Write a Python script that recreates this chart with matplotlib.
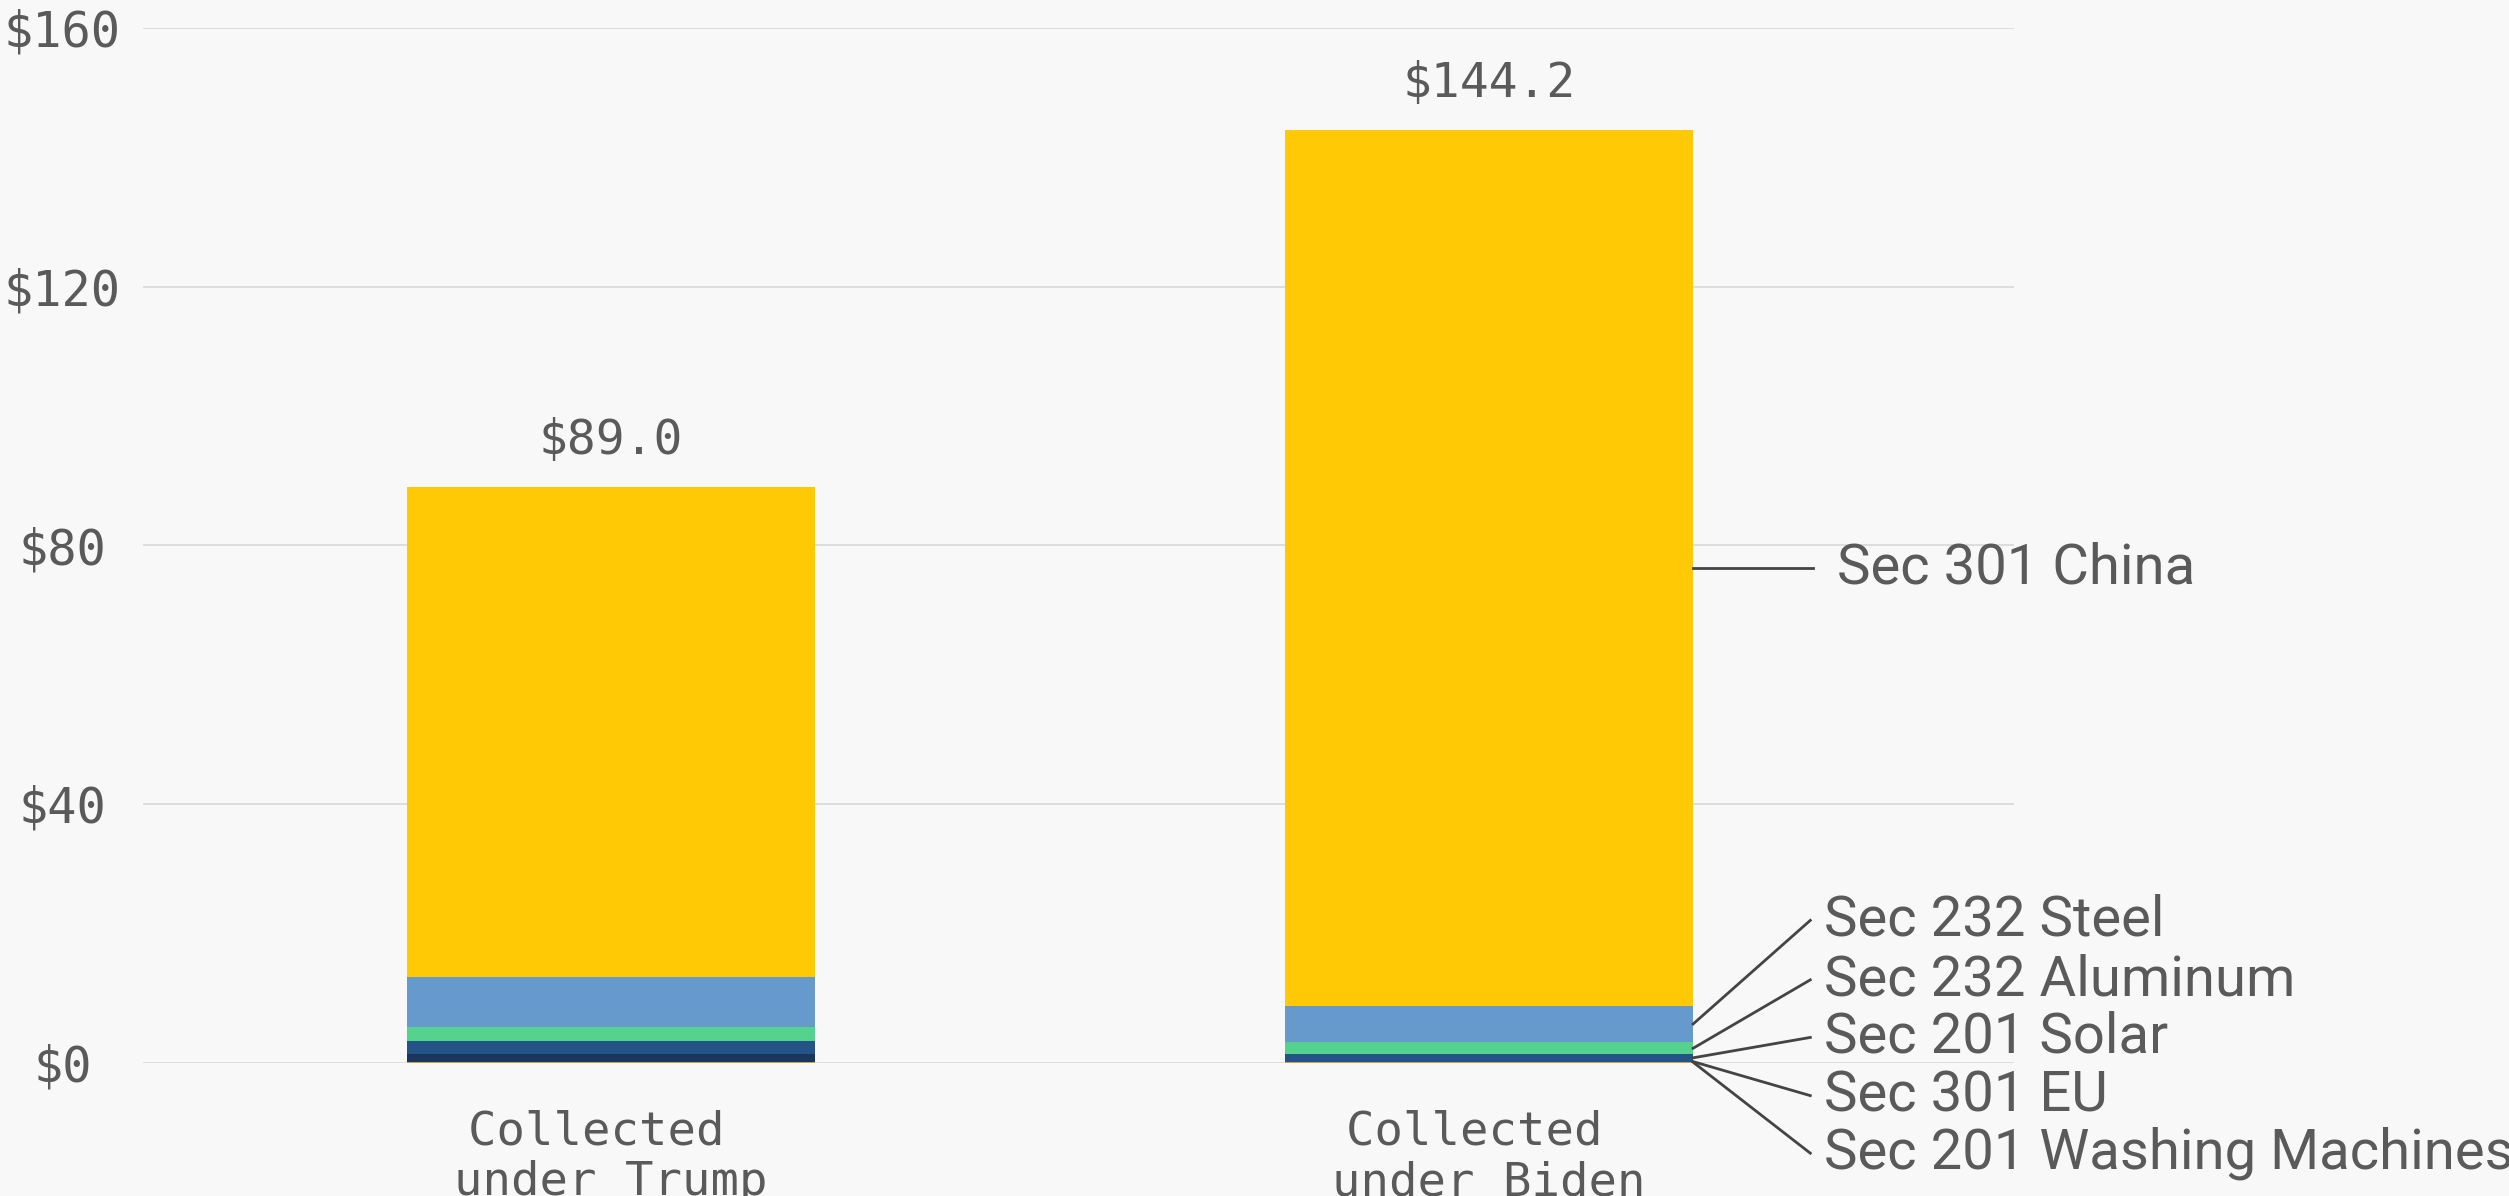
import matplotlib
matplotlib.use("Agg")
from matplotlib import pyplot as plt
import numpy as np

# tariff revenue collected, billions of dollars
periods = ["Collected \nunder Trump", "Collected \nunder Biden"]
series = ["Sec 201 Washing Machines", "Sec 301 EU", "Sec 201 Solar",
          "Sec 232 Aluminum", "Sec 232 Steel", "Sec 301 China"]
washing = [0.15, 0.15]
eu = [1.15, 0.02]
solar = [2.0, 1.15]
aluminum = [2.27, 1.8]
steel = [7.6, 5.7]
china = [75.83, 135.38]
yticks = [0, 40, 80, 120, 160]

colors = ["#c9a53a", "#1b365d", "#245487", "#55d38e", "#6699cc", "#ffc905"]
bg = "#f8f8f8"
txt = "#5a5a5a"
mono = "DejaVu Sans Mono"

values = np.array([washing, eu, solar, aluminum, steel, china])
totals = values.sum(axis=0)

fig = plt.figure(figsize=(25.09, 11.96), dpi=100, facecolor=bg)
ax = fig.add_axes([0.057, 0.1115, 0.7457, 0.8651], facecolor=bg)

x = np.arange(len(periods))
w = 0.465
bottom = np.zeros(len(periods))
for vals, c in zip(values, colors):
    ax.bar(x, vals, w, bottom=bottom, color=c, linewidth=0, zorder=3)
    bottom += vals

ax.set_xlim(-0.533, 1.598)
ax.set_ylim(0, 160)
ax.set_yticks(yticks, ["${}".format(v) for v in yticks])
ax.set_xticks(x, periods)
ax.grid(axis="y", color="#dddddd", linewidth=1.4, zorder=0)
for s in ax.spines.values():
    s.set_visible(False)
ax.tick_params(axis="y", length=0, pad=58, labelsize=35, labelcolor=txt)
ax.tick_params(axis="x", length=0, pad=34, labelsize=34, labelcolor=txt)
for lab in ax.get_yticklabels():
    lab.set_fontfamily(mono)
    lab.set_horizontalalignment("center")
for lab in ax.get_xticklabels():
    lab.set_fontfamily(mono)
    lab.set_linespacing(1.15)

# totals above each bar
for xi, t in zip(x, totals):
    ax.annotate("${:.1f}".format(t), (xi, t), xytext=(0, 17), textcoords="offset points",
                ha="center", va="bottom", fontsize=34.5, color=txt, family=mono)

# leader lines from the Biden bar to the series names
edge = x[1] + w / 2
mids = values[:, 1].cumsum() - values[:, 1] / 2
label_y = [-14.0, -5.1, 3.9, 12.8, 22.0]
for name, m, ly in zip(series[:5], mids[:5], label_y):
    ax.plot([edge, 1.366], [m, ly], color="#444444", linewidth=2.0, clip_on=False, zorder=4)
    ax.text(1.3815, ly, name, ha="left", va="center", fontsize=40.5, color=txt,
            family="Roboto", clip_on=False)
ax.plot([edge, 1.369], [mids[5], mids[5]], color="#444444", linewidth=2.0, clip_on=False, zorder=4)
ax.text(1.396, mids[5], series[5], ha="left", va="center", fontsize=40.5, color=txt,
        family="Roboto", clip_on=False)

fig.savefig("out.png", dpi=100, facecolor=bg)
